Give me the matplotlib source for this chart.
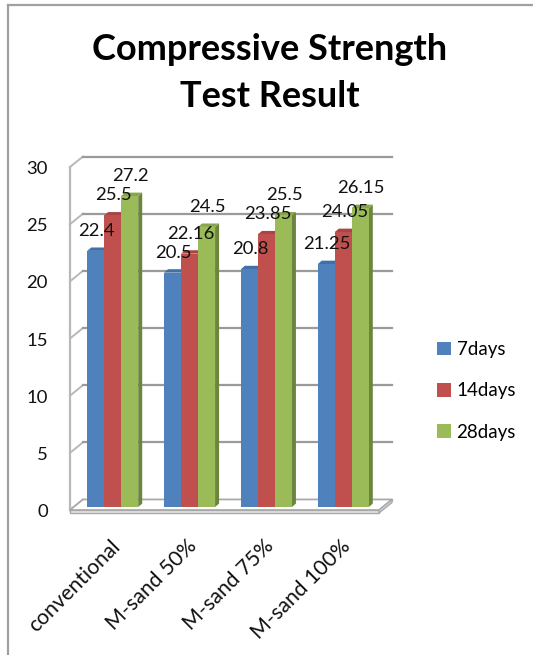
import matplotlib.pyplot as plt
from matplotlib.lines import Line2D
from matplotlib.patches import Polygon, Patch

plt.rcParams['font.family'] = ['Lato', 'DejaVu Sans']

# compressive strength (N/mm2) per mix and curing age
mixes = ['conventional', 'M-sand 50%', 'M-sand 75%', 'M-sand 100%']
days7 = [22.4, 20.5, 20.8, 21.25]
days14 = [25.5, 22.16, 23.85, 24.05]
days28 = [27.2, 24.5, 25.5, 26.15]
series = ['7days', '14days', '28days']
yticks = [0, 5, 10, 15, 20, 25, 30]

front_cols = ['#4f81bd', '#c0504d', '#9bbb59']
side_cols = ['#385d8a', '#8c3a37', '#6b853c']
top_cols = ['#4170a8', '#a84643', '#87a54c']

W, H = 533, 655
fig = plt.figure(figsize=(W / 100, H / 100), dpi=100)
fig.patch.set_facecolor('white')

# axes sits on the plane where the bar fronts stand
x0, x1 = -0.51, 3.51
ax = fig.add_axes([73.5 / W, (H - 507) / H, 309 / W, 343 / H])
ax.set_xlim(x0, x1)
ax.set_ylim(0, 30)
ax.axis('off')

# pixel -> data units
ux = (x1 - x0) / 309.0
uy = 30.0 / 343.0

def px(dx, dy):
    return dx * ux, dy * uy

fdx, fdy = px(-3.5, -3)    # front edge of the walls
bdx, bdy = px(9.5, 7.5)    # back wall
ddx, ddy = px(4, 3.4)      # bar depth

grid_c = '#9a9a9a'
side_c = '#b8b8b8'

# walls: gridlines on back wall, diagonals on the side wall
for v in yticks:
    ax.plot([x0 + fdx, x0 + bdx], [v + fdy, v + bdy], color=side_c, lw=1.4,
            clip_on=False, zorder=1)
    ax.plot([x0 + bdx, x1 + bdx], [v + bdy, v + bdy], color=grid_c, lw=1.6,
            clip_on=False, zorder=1)
ax.plot([x0 + fdx, x0 + fdx], [0 + fdy, 30 + fdy], color=side_c, lw=1.6,
        clip_on=False, zorder=1)

# floor slab
th = 3 * uy
floor_top = [(x0 + fdx, fdy), (x1 + fdx, fdy), (x1 + bdx, bdy), (x0 + bdx, bdy)]
ax.add_patch(Polygon(floor_top, closed=True, fc='white', ec='#a8a8a8', lw=1.2,
                     clip_on=False, zorder=1.5))
ax.add_patch(Polygon([(x0 + fdx, fdy), (x1 + fdx, fdy), (x1 + fdx, fdy - th),
                      (x0 + fdx, fdy - th)], closed=True, fc='#e6e6e6',
                     ec='#a8a8a8', lw=1.0, clip_on=False, zorder=1.5))
ax.add_patch(Polygon([(x1 + fdx, fdy), (x1 + bdx, bdy), (x1 + bdx, bdy - th),
                      (x1 + fdx, fdy - th)], closed=True, fc='#d9d9d9',
                     ec='#a8a8a8', lw=1.0, clip_on=False, zorder=1.5))

# 3-d looking bars
bw = 17 * ux
z = 2
for i in range(len(mixes)):
    for j, vals in enumerate([days7, days14, days28]):
        v = vals[i]
        xc = i + (j - 1) * bw
        xl, xr = xc - bw / 2, xc + bw / 2
        ax.add_patch(Polygon([(xr, 0), (xr + ddx, ddy), (xr + ddx, v + ddy), (xr, v)],
                             closed=True, fc=side_cols[j], ec='none', zorder=z,
                             clip_on=False))
        ax.add_patch(Polygon([(xl, v), (xr, v), (xr + ddx, v + ddy), (xl + ddx, v + ddy)],
                             closed=True, fc=top_cols[j], ec='none', zorder=z,
                             clip_on=False))
        ax.bar(xc, v, width=bw, color=front_cols[j], edgecolor='none', zorder=z + 0.1)
        ax.annotate(f'{v:g}', (xc, v), xytext=(1, 20), textcoords='offset pixels',
                    ha='center', va='center', fontsize=13.3, color='#111111',
                    zorder=20)
        z += 1

# value axis labels along the front edge
for v in yticks:
    ax.annotate(str(v), (x0 + fdx, v + fdy), xytext=(-22, -2),
                textcoords='offset pixels', ha='right', va='center',
                fontsize=13.3, color='#111111', annotation_clip=False)

# category labels, rotated
for i, name in enumerate(mixes):
    ax.annotate(name, (i, 0), xytext=(4, -36), textcoords='offset pixels',
                ha='right', va='center', rotation=45, rotation_mode='anchor',
                fontsize=15.3, color='#111111', annotation_clip=False)

fig.text(270 / W, 1 - 73 / H, 'Compressive Strength\nTest Result',
         ha='center', va='center', fontsize=26, fontweight='bold',
         linespacing=1.5, color='#000000')

handles = [Patch(facecolor=c, edgecolor='none') for c in front_cols]
fig.legend(handles, series, loc='center left', bbox_to_anchor=(420 / W, 1 - 391 / H),
           frameon=False, fontsize=13.5, handlelength=0.75, handleheight=0.75,
           handletextpad=0.3, labelspacing=1.3)

# chart frame
fig.add_artist(Line2D([8 / W, 8 / W], [0, 1 - 5 / H], color='#a0a0a0', lw=1.6))
fig.add_artist(Line2D([8 / W, 1], [1 - 5 / H, 1 - 5 / H], color='#a0a0a0', lw=1.6))

fig.savefig('out.png', dpi=100)
